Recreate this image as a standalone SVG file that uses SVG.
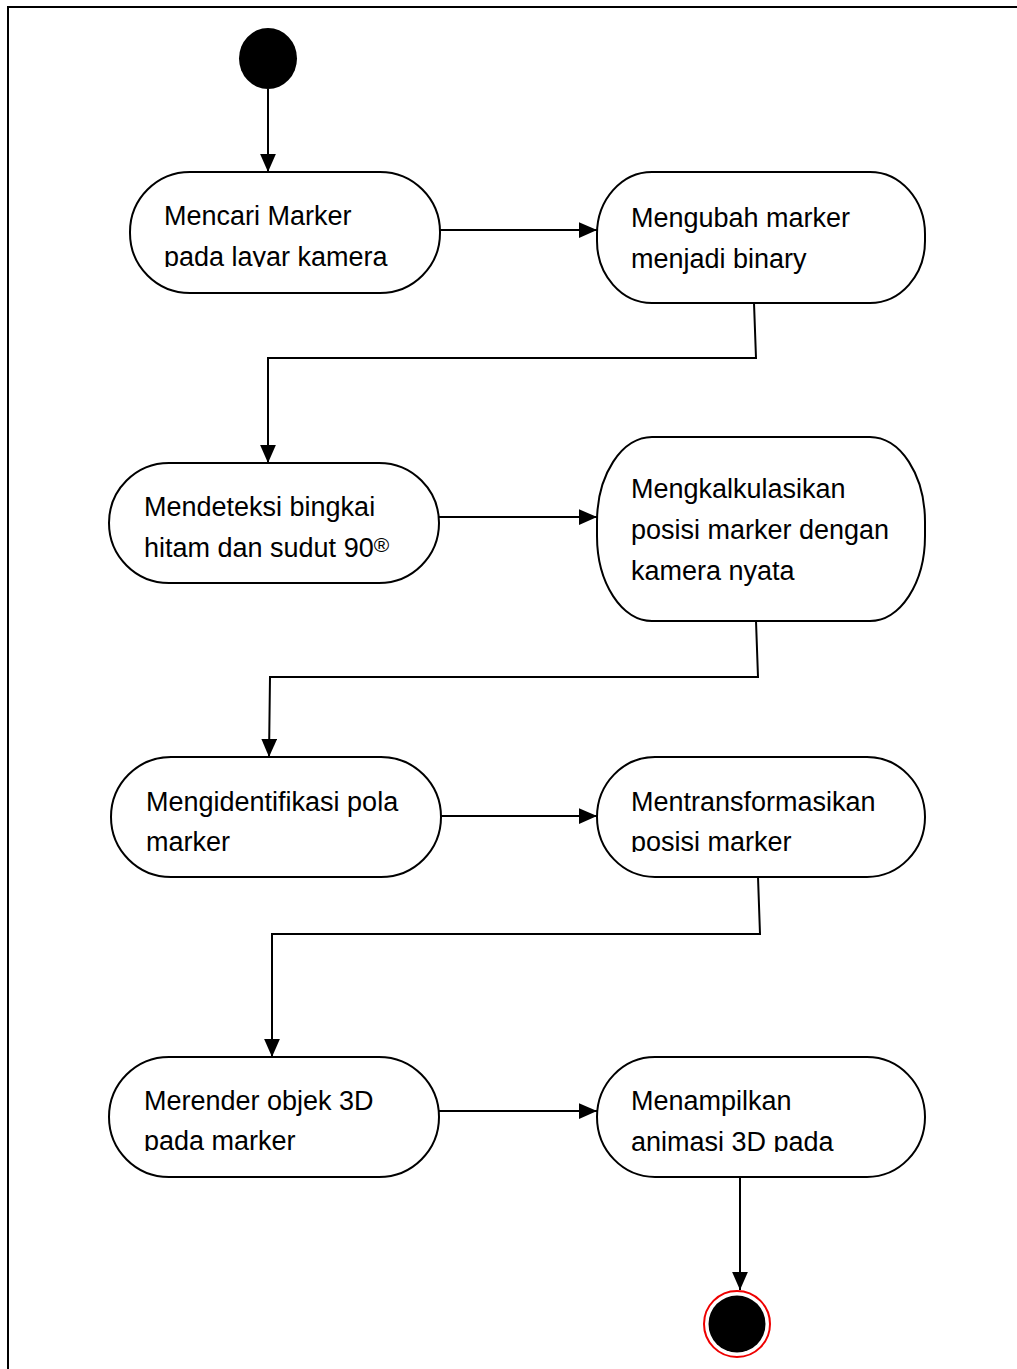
<svg xmlns="http://www.w3.org/2000/svg" width="1017" height="1369" viewBox="0 0 1017 1369">
<defs>
<style>
.node{fill:#fff;stroke:#000;stroke-width:2}
.lbl{font-family:"Liberation Sans",Arial,sans-serif;font-size:27px;fill:#000}
.conn{fill:none;stroke:#000;stroke-width:2}
</style>
<marker id="arr" markerUnits="userSpaceOnUse" markerWidth="18" markerHeight="16" viewBox="0 0 16 14" refX="16" refY="7" orient="auto">
<path d="M0,0 L16,7 L0,14 Z" fill="#000"/>
</marker>
<clipPath id="c1"><rect x="130" y="172" width="310" height="95"/></clipPath>
<clipPath id="c6"><rect x="598" y="757" width="326" height="95"/></clipPath>
<clipPath id="c7"><rect x="109" y="1057" width="330" height="94"/></clipPath>
<clipPath id="c8"><rect x="598" y="1057" width="326" height="95"/></clipPath>
</defs>
<rect width="1017" height="1369" fill="#fff"/>
<path d="M8,1369 V7 H1017" fill="none" stroke="#000" stroke-width="2"/>

<g id="start"><ellipse cx="268" cy="58.5" rx="29" ry="30.5" fill="#000"/></g>

<g id="n1">
<rect class="node" x="130" y="172" width="310" height="121" rx="60" ry="60"/>
<g clip-path="url(#c1)"><text class="lbl" x="164" y="225">Mencari Marker</text><text class="lbl" x="164" y="266">pada layar kamera</text></g>
</g>
<g id="n2">
<rect class="node" x="597" y="172" width="328" height="131" rx="55" ry="62"/>
<text class="lbl" x="631" y="227">Mengubah marker</text><text class="lbl" x="631" y="268">menjadi binary</text>
</g>
<g id="n3">
<rect class="node" x="109" y="463" width="330" height="120" rx="60" ry="60"/>
<text class="lbl" x="144" y="516">Mendeteksi bingkai</text><text class="lbl" x="144" y="557">hitam dan sudut 90<tspan font-size="21" dy="-5">®</tspan></text>
</g>
<g id="n4">
<rect class="node" x="597" y="437" width="328" height="184" rx="55" ry="85"/>
<text class="lbl" x="631" y="498">Mengkalkulasikan</text><text class="lbl" x="631" y="539">posisi marker dengan</text><text class="lbl" x="631" y="580">kamera nyata</text>
</g>
<g id="n5">
<rect class="node" x="111" y="757" width="330" height="120" rx="60" ry="60"/>
<text class="lbl" x="146" y="811">Mengidentifikasi pola</text><text class="lbl" x="146" y="851">marker</text>
</g>
<g id="n6">
<rect class="node" x="597" y="757" width="328" height="120" rx="58" ry="60"/>
<g clip-path="url(#c6)"><text class="lbl" x="631" y="811">Mentransformasikan</text><text class="lbl" x="631" y="851">posisi marker</text></g>
</g>
<g id="n7">
<rect class="node" x="109" y="1057" width="330" height="120" rx="60" ry="60"/>
<g clip-path="url(#c7)"><text class="lbl" x="144" y="1110">Merender objek 3D</text><text class="lbl" x="144" y="1150">pada marker</text></g>
</g>
<g id="n8">
<rect class="node" x="597" y="1057" width="328" height="120" rx="58" ry="60"/>
<g clip-path="url(#c8)"><text class="lbl" x="631" y="1110">Menampilkan</text><text class="lbl" x="631" y="1151">animasi 3D pada</text></g>
</g>

<g id="end">
<circle cx="737" cy="1324" r="33" fill="#fff" stroke="#e00" stroke-width="2"/>
<circle cx="737" cy="1324" r="28.5" fill="#000"/>
</g>

<g id="connectors">
<path class="conn" d="M268,89 V172" marker-end="url(#arr)"/>
<path class="conn" d="M440,230 H597" marker-end="url(#arr)"/>
<path class="conn" d="M754,303 L756,358 H268 V463" marker-end="url(#arr)"/>
<path class="conn" d="M439,517 H597" marker-end="url(#arr)"/>
<path class="conn" d="M756,621 L758,677 H270 L269,757" marker-end="url(#arr)"/>
<path class="conn" d="M441,816 H597" marker-end="url(#arr)"/>
<path class="conn" d="M758,877 L760,934 H272 V1057" marker-end="url(#arr)"/>
<path class="conn" d="M439,1111 H597" marker-end="url(#arr)"/>
<path class="conn" d="M740,1177 V1290" marker-end="url(#arr)"/>
</g>
</svg>
